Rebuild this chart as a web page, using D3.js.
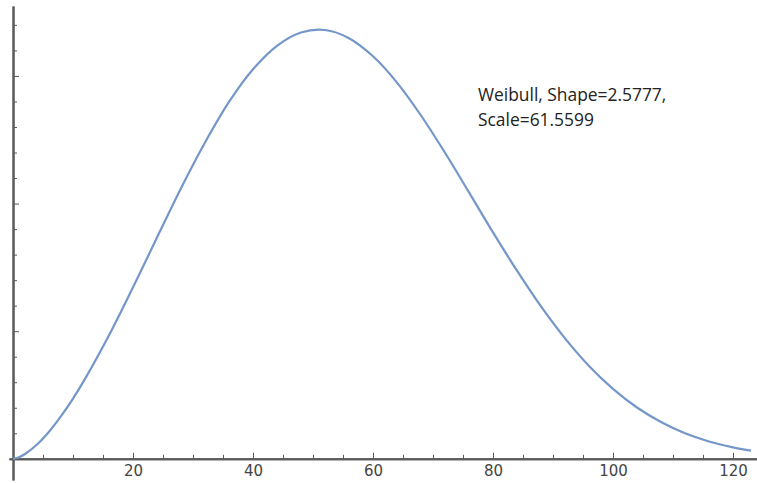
<!DOCTYPE html>
<html>
<head>
<meta charset="utf-8">
<script src="https://cdn.jsdelivr.net/npm/d3@7"></script>
<style>
  body { margin: 0; background: #fff; }
  .axis path, .axis line { stroke: #5a5a5a; }
  .axis text { fill: #444; font-family: "DejaVu Sans", sans-serif; font-size: 15px; }
</style>
</head>
<body>
<svg id="chart" width="757" height="483"></svg>
<script>
// Weibull density
var xs = [0, 1, 2, 4, 6, 8, 10, 12, 16, 20, 24, 28, 32, 36, 40, 44, 48, 52, 56, 60,
          64, 68, 72, 76, 80, 84, 88, 92, 96, 100, 104, 108, 112, 116, 120, 122, 123];
var density = [0, 0.000063, 0.00019, 0.00056, 0.00106, 0.00167, 0.00236, 0.00313,
               0.00484, 0.00672, 0.00867, 0.01060,
               0.01239, 0.01398, 0.01526, 0.01618, 0.01670, 0.01680, 0.01648, 0.01577,
               0.01474, 0.01345, 0.01199, 0.01044, 0.00887, 0.00737, 0.00597, 0.00472,
               0.00364, 0.00274, 0.00201, 0.00144, 0.00100, 0.00068, 0.00045, 0.00036, 0.00032];
var xMajor = [20, 40, 60, 80, 100, 120];
var xMinor = [5, 10, 15, 25, 30, 35, 45, 50, 55, 65, 70, 75, 85, 90, 95, 105, 110, 115];
var yMajor = [0.005, 0.010, 0.015];
var yMinor = [0.001, 0.002, 0.003, 0.004, 0.006, 0.007, 0.008, 0.009,
              0.011, 0.012, 0.013, 0.014, 0.016, 0.017];
var note = ["Weibull, Shape=2.5777,", "Scale=61.5599"];

var svg = d3.select("#chart");

var x = d3.scaleLinear().domain([-0.67, 124]).range([9, 757]);
var y = d3.scaleLinear().domain([-0.00083, 0.01774]).range([480, 6]);

var data = xs.map(function(d, i) { return {x: d, y: density[i]}; });

// x axis (ticks point up into the plot)
svg.append("g").attr("class", "axis")
  .attr("transform", "translate(0," + y(0) + ")")
  .call(d3.axisBottom(x).tickValues(xMinor).tickSize(-4).tickSizeOuter(0).tickFormat(""));
var xg = svg.append("g").attr("class", "axis")
  .attr("transform", "translate(0," + y(0) + ")")
  .call(d3.axisBottom(x).tickValues(xMajor).tickSize(-6).tickSizeOuter(0).tickPadding(7));
xg.selectAll("text").attr("dy", "0.71em");

// y axis (ticks point right)
svg.append("g").attr("class", "axis")
  .attr("transform", "translate(" + x(0) + ",0)")
  .call(d3.axisLeft(y).tickValues(yMinor).tickSize(-4).tickSizeOuter(0).tickFormat(""));
svg.append("g").attr("class", "axis")
  .attr("transform", "translate(" + x(0) + ",0)")
  .call(d3.axisLeft(y).tickValues(yMajor).tickSize(-6).tickSizeOuter(0).tickFormat(""));

svg.selectAll(".axis .domain").attr("stroke-width", 2);
svg.selectAll(".axis .tick line").attr("stroke", "#777");

var line = d3.line()
  .x(function(d) { return x(d.x); })
  .y(function(d) { return y(d.y); })
  .curve(d3.curveCatmullRom);

svg.append("path")
  .datum(data)
  .attr("fill", "none")
  .attr("stroke", "#7496c9")
  .attr("stroke-width", 2.2)
  .attr("d", line);

svg.append("g").selectAll("text")
  .data(note)
  .enter().append("text")
  .attr("x", 478)
  .attr("y", function(d, i) { return 101 + i * 25; })
  .attr("fill", "#222")
  .style("font-family", "'Open Sans', sans-serif")
  .style("font-size", "17.4px")
  .text(function(d) { return d; });
</script>
</body>
</html>
